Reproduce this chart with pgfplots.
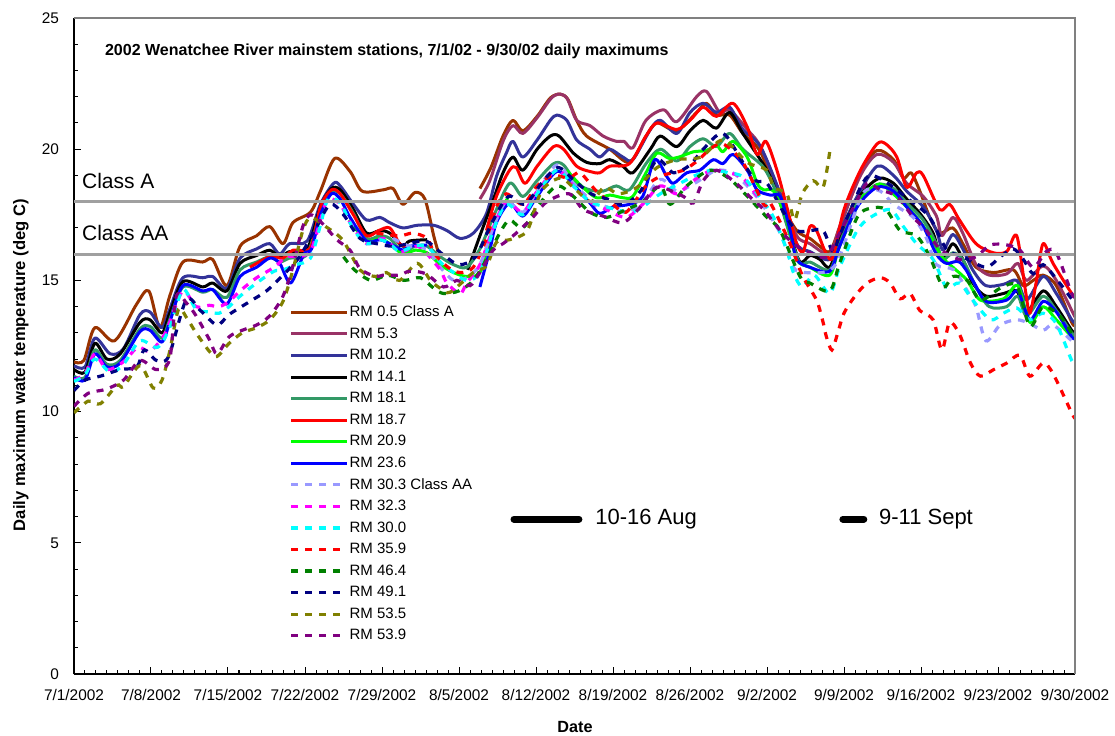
\documentclass[border=0pt]{standalone}
\usepackage{fontspec}
\setmainfont{Liberation Sans}
\usepackage{pgfplots}
\pgfplotsset{compat=1.18}

\definecolor{rmbrown}{HTML}{993300}
\definecolor{rmplum}{HTML}{993366}
\definecolor{rmindigo}{HTML}{333399}
\definecolor{rmsea}{HTML}{339966}
\definecolor{rmred}{HTML}{FF0000}
\definecolor{rmlime}{HTML}{00FF00}
\definecolor{rmblue}{HTML}{0000FF}
\definecolor{rmperi}{HTML}{9999FF}
\definecolor{rmmagenta}{HTML}{FF00FF}
\definecolor{rmcyan}{HTML}{00FFFF}
\definecolor{rmgreen}{HTML}{008000}
\definecolor{rmnavy}{HTML}{000080}
\definecolor{rmolive}{HTML}{808000}
\definecolor{rmpurple}{HTML}{800080}
\definecolor{framegray}{HTML}{808080}
\definecolor{classgray}{HTML}{A0A0A0}

\pgfplotsset{
  solidrm/.style={smooth, tension=0.5, line width=1.5pt, line join=round, no markers},
  dashrm/.style={smooth, tension=0.5, line width=1.6pt, dash pattern=on 3.5pt off 3.5pt, no markers},
}

\begin{document}
\begin{tikzpicture}
\begin{axis}[
    name=ax,
    scale only axis,
    width=500.5pt, height=328pt,
    xmin=0, xmax=91, ymin=0, ymax=25,
    axis x line*=bottom, axis y line*=left,
    axis line style={black, line width=0.6pt},
    xtick={0,7,...,91},
    xticklabels={7/1/2002,7/8/2002,7/15/2002,7/22/2002,7/29/2002,8/5/2002,8/12/2002,8/19/2002,8/26/2002,9/2/2002,9/9/2002,9/16/2002,9/23/2002,9/30/2002},
    minor x tick num=6,
    ytick={0,5,...,25},
    minor y tick num=4,
    tick align=inside,
    major tick length=3.5pt, minor tick length=2pt,
    tick style={black, line width=0.5pt},
    tick label style={font=\fontsize{7.7}{9}\selectfont},
    xticklabel style={yshift=-4pt},
    yticklabel style={xshift=-4pt},
    /pgf/number format/assume math mode=true,
    xlabel={Date},
    ylabel={Daily maximum water temperature (deg C)},
    xlabel style={font=\bfseries\fontsize{8.1}{9}\selectfont, at={(rel axis cs:0.5005,-0.081)}, anchor=center},
    ylabel style={font=\bfseries\fontsize{8.3}{9}\selectfont, at={(rel axis cs:-0.053,0.471)}, anchor=center},
    legend cell align=left,
    legend image code/.code={\draw[#1] (0pt,0pt) -- (28pt,0pt);},
    legend style={draw=none, fill=none, at={(rel axis cs:0.2088,0.5702)}, anchor=north west,
        font=\fontsize{7.5}{8}\selectfont, row sep=2.78pt,
        nodes={inner sep=0.5pt, text height=5.6pt, text depth=1.4pt}},
]

% RM 0.5
\addplot[solidrm, rmbrown] coordinates {
(0,11.9) (0.9,11.95) (1.9,13.2) (3.7,12.7) (5.7,14.1) (6.8,14.6) (7.8,13.2) (8.7,14.4) (9.9,15.7) (11.7,15.7) (12.6,15.8) (13.9,14.8) (15.1,16.3) (16.6,16.7) (17.8,17.05) (19,16.4) (19.9,17.2) (21.5,17.6) (22.4,18.4) (23.7,19.65) (25.1,19.15) (26.2,18.4) (28.1,18.45) (29,18.5) (29.9,17.9) (31,18.35) (31.9,18.1) (32.7,16.7) (33.1,16.1)
};
\addlegendentry{RM 0.5 Class A}
\addplot[solidrm, rmbrown, forget plot] coordinates {
(36.9,18.5) (37.9,19.3) (39,20.5) (39.9,21.1) (40.8,20.7) (42.1,21.25) (43.3,21.95) (44.2,22.1) (44.9,21.9) (45.7,21.1) (46.6,20.5) (48.7,20.0) (50.5,19.5) (52,20.5) (53,21.0) (54.8,20.7) (56.6,21.4) (57.5,21.75) (58.4,21.3) (59.6,21.3) (60.8,20.6) (62.4,19.9) (64.2,18.0) (65.7,16.9) (66.9,16.6) (67.8,16.3) (68.7,16.1) (69.6,17.0) (71.5,19.1) (73,19.95) (74.5,19.6) (75.4,18.9) (76.1,19.1) (76.9,18.4) (77.8,17.4) (78.7,16.8) (79.9,17.0) (80.8,16.4) (82,15.5) (83.6,15.3) (85.4,15.4) (86.3,14.8) (87.2,15.0) (88.1,15.2) (89.3,14.8) (90.7,13.4) (91,13.3)
};

% RM 5.3
\addplot[solidrm, rmplum] coordinates {
(36.9,18.1) (37.8,18.8) (39,20.3) (39.9,20.9) (40.8,20.6) (42.1,21.2) (43.3,21.9) (44,22.1) (44.8,21.95) (45.7,21.1) (46.9,20.9) (48.1,20.5) (49.3,20.3) (50,20.3) (50.8,20.05) (52,21.1) (53.6,21.5) (54.8,21.05) (56.6,22.0) (57.5,22.2) (58.7,21.4) (59.6,21.5) (61.2,20.75) (62.4,20.1) (64.2,18.3) (65.7,16.7) (66.9,16.4) (68.7,16.0) (69.6,17.05) (71.5,19.0) (73,19.8) (74.5,19.5) (75.7,18.7) (77.2,18.2) (78.4,17.45) (78.9,16.7) (79.9,17.4) (80.8,16.8) (82,15.6) (83.2,15.2) (84.8,15.25) (85.8,15.65) (86.6,15.0) (88.1,15.55) (89.3,15.0) (91,13.6)
};
\addlegendentry{RM 5.3}

% RM 10.2
\addplot[solidrm, rmindigo] coordinates {
(0,11.75) (1,11.7) (1.9,12.8) (3.3,12.2) (4.5,12.4) (6,13.7) (6.9,13.8) (8,13.2) (8.7,13.9) (9.9,15.1) (11.7,15.1) (12.6,15.15) (13.9,14.7) (15.1,15.85) (16.6,16.2) (17.8,16.4) (18.7,16.0) (19.6,16.4) (21.2,16.5) (22.4,17.9) (23.6,18.7) (24.2,18.6) (25.4,17.9) (26.6,17.3) (27.8,17.4) (28.7,17.2) (29.9,17.0) (31.2,17.1) (32.7,17.1) (33.9,16.9) (35.1,16.6) (36.3,16.8) (37.5,17.55) (38.4,18.95) (39.3,19.85) (39.9,20.3) (40.8,19.7) (42.1,20.35) (43.3,21.1) (43.9,21.3) (44.8,21.1) (45.7,20.35) (46.9,20.0) (47.8,19.7) (48.7,20.0) (49.9,19.7) (50.8,19.6) (52.4,20.75) (53.3,21.1) (54.8,20.6) (56,21.4) (57.2,21.75) (58.4,21.4) (59.6,21.6) (60.8,20.75) (62.4,20.1) (64.2,18.3) (65.7,16.4) (66.9,16.1) (68.7,15.8) (69.6,16.8) (71.2,18.2) (73,19.35) (74.5,19.0) (75.7,18.4) (77.2,17.8) (78.4,16.9) (79,16.15) (79.9,16.75) (80.8,16.2) (81.7,15.4) (82.9,14.8) (84.5,14.85) (85.7,15.0) (86.6,14.25) (88.1,15.15) (89.3,14.5) (90.7,13.5) (91,13.4)
};
\addlegendentry{RM 10.2}

% RM 14.1
\addplot[solidrm, black] coordinates {
(0,11.6) (1,11.5) (1.9,12.6) (3,12.0) (4.2,12.2) (6,13.4) (6.9,13.5) (8,13.0) (8.7,13.75) (9.9,14.95) (11.7,14.75) (12.6,14.9) (13.9,14.6) (15.1,15.65) (16.6,15.95) (17.8,16.15) (18.7,15.9) (19.6,16.1) (21.2,16.2) (22.4,17.8) (23.4,18.5) (24.2,18.45) (25.4,17.7) (26.6,16.8) (27.8,16.9) (28.7,16.8) (29.9,16.3) (30.5,16.5) (32.1,16.55)
};
\addlegendentry{RM 14.1}
\addplot[solidrm, black, forget plot] coordinates {
(35.8,15.4) (36.9,16.7) (38.1,18.05) (39,19.1) (39.9,19.7) (40.8,19.2) (42.1,20.0) (43.3,20.5) (44.1,20.5) (45.4,19.85) (46.6,19.5) (47.8,19.45) (48.7,19.6) (49.9,19.35) (50.8,19.1) (52.4,20.0) (53.3,20.5) (54.8,20.1) (56,20.7) (57.2,21.1) (58.4,20.8) (59.6,21.4) (60.8,20.6) (62.4,19.6) (63.3,18.95) (64.2,17.95) (65.1,16.8) (66,15.7) (66.9,15.95) (67.8,15.8) (68.7,15.5) (69.6,16.55) (70.8,17.8) (72.1,18.55) (73.3,18.9) (74.5,18.7) (75.7,18.1) (76.9,17.55) (78.1,16.8) (78.9,15.8) (79.9,16.4) (80.8,15.8) (81.7,14.9) (82.9,14.4) (84.5,14.5) (85.7,14.6) (86.6,13.8) (88.1,14.6) (89.3,14.0) (90.7,13.1) (91,13.0)
};

% RM 18.1
\addplot[solidrm, rmsea] coordinates {
(0,11.35) (1,11.3) (1.9,12.35) (3,11.8) (4.2,11.95) (6,13.15) (6.9,13.25) (8,12.8) (8.7,13.5) (9.9,14.75) (11.7,14.55) (12.6,14.65) (13.9,14.35) (15.1,15.4) (16.6,15.7) (17.8,15.9) (18.7,15.7) (19.6,15.85) (21.2,16.0) (22.4,17.6) (23.4,18.35) (24.2,18.3) (25.4,17.55) (26.6,16.6) (27.8,16.7) (28.7,16.6) (29.9,16.1) (31,16.3) (32.1,16.3) (33.3,15.9) (34.5,15.6) (35.7,15.5) (36.9,16.2) (38.1,17.4) (39.6,18.7) (40.8,18.2) (42.1,18.8) (43.6,19.45) (44.5,19.4) (45.7,18.7) (46.9,18.45) (48.1,18.4) (49.3,18.6) (50.5,18.45) (52,19.45) (53.3,20.0) (54.8,19.55) (56,20.1) (57.2,20.4) (58.4,20.1) (59.6,20.6) (60.8,20.0) (62.6,19.35) (63.6,18.6) (64.2,17.95) (65.1,16.7) (66,15.65) (66.9,15.7) (68.7,15.4) (69.6,16.4) (71.2,17.95) (73,18.65) (74.5,18.5) (75.7,17.95) (77.2,17.3) (78.4,16.4) (79,15.8) (79.9,16.05) (80.8,15.8) (82,14.75) (83.2,14.0) (84.8,14.0) (85.8,14.4) (86.6,13.65) (88.1,14.4) (89.3,13.85) (90.7,13.0) (91,12.9)
};
\addlegendentry{RM 18.1}

% RM 18.7
\addplot[solidrm, rmred] coordinates {
(16,15.5) (17.8,15.9) (19,15.85) (19.9,16.15) (21.5,16.25) (22.4,17.8) (23.4,18.45) (24.2,18.3) (25.4,17.5) (26.6,16.7) (27.7,16.9) (28.7,17.0) (29.6,16.4) (30.2,16.3)
};
\addlegendentry{RM 18.7}
\addplot[solidrm, rmred, forget plot] coordinates {
(37.5,16.9) (38.4,18.2) (39.6,19.2) (40.2,19.3) (41,18.7) (42.1,19.35) (43.6,20.1) (44.5,20.0) (45.7,19.35) (46.9,19.15) (47.8,19.1) (48.7,19.35) (50.5,19.45) (52,20.5) (53,21.0) (54.8,20.75) (56,21.1) (57.2,21.6) (58.4,21.25) (59.9,21.75) (61.2,20.85) (62.1,19.8) (62.9,20.3) (63.9,19.2) (64.8,17.8) (65.7,16.4) (66.3,16.1) (66.9,17.05) (67.5,16.9) (68.4,16.0) (69,15.9) (70,17.7) (71.5,19.2) (73,20.2) (73.8,20.2) (74.8,19.7) (75.7,18.55) (76.6,19.1) (77.2,19.0) (78.7,17.7) (79.6,17.9) (80.5,17.3) (82,16.4) (83.6,16.05) (84.8,16.1) (85.7,16.7) (86.5,14.6) (86.9,13.75) (87.5,15.0) (88.1,16.4) (89,15.65) (90.7,14.5) (91,14.4)
};

% RM 20.9
\addplot[solidrm, rmlime] coordinates {
(25,17.3) (26.6,16.5) (27.8,16.6) (28.7,16.4) (29.9,16.0) (31,16.15) (32.1,16.05) (33.3,15.6) (34.5,15.3) (35.7,15.15) (36.9,15.3) (37.8,16.55) (38.7,17.55) (39.5,18.2)
};
\addlegendentry{RM 20.9}
\addplot[solidrm, rmlime, forget plot] coordinates {
(44.8,19.2) (46,18.65) (47.5,18.15) (48.7,18.25) (49.9,18.15) (50.8,18.2) (52,19.1) (53,19.85) (54.1,19.65) (55,19.7) (56.3,19.9) (57.5,19.95) (58.4,20.15) (59,19.9) (59.9,20.3) (61.2,19.7) (62.1,18.7) (62.7,18.45) (63.6,18.4) (64.8,17.3) (65.7,15.8) (66.9,15.5) (68.7,15.2) (69.6,16.3) (71.5,18.05) (73,18.65) (73.8,18.55) (75.1,18.05) (76.6,17.4) (77.8,16.7) (78.9,15.9) (79.9,15.5) (81.2,15.0) (82.4,14.25) (84.5,14.3) (85.8,14.8) (86.9,13.4) (88.1,14.0) (89.3,13.5) (90.7,12.85) (91,12.8)
};

% RM 23.6
\addplot[solidrm, rmblue] coordinates {
(0,11.3) (1,11.2) (1.9,12.2) (3,11.7) (4.2,11.85) (6,13.05) (6.9,13.1) (8,12.65) (8.7,13.4) (9.9,14.8) (11.7,14.6) (12.6,14.65) (13.9,14.1) (15.1,15.15) (16.6,15.5) (17.8,15.85) (18.7,15.65) (19.7,14.9) (20.9,16.0) (21.6,16.2) (22.4,17.5) (23.4,18.3) (24.2,18.1) (25.1,17.4) (26.6,16.5) (27.8,16.55) (28.7,16.4) (29.9,16.15) (30.5,16.3) (32.1,16.35)
};
\addlegendentry{RM 23.6}
\addplot[solidrm, rmblue, forget plot] coordinates {
(36.9,14.75) (37.8,16.15) (38.4,17.2) (39.6,17.95) (40.8,17.45) (42.1,18.2) (43.9,19.15) (45.4,18.65) (46.9,17.95) (47.8,17.55) (49,17.8) (50.5,17.9) (51.7,18.2) (52.8,19.6) (53.9,18.95) (54.5,18.7) (55.7,19.1) (56.9,19.2) (58.1,19.6) (59,19.45) (59.9,19.8) (61.2,19.2) (62.1,18.45) (63.3,18.25) (64.2,18.2) (65.1,16.9) (65.7,15.8) (66.9,15.5) (68.7,15.35) (69.6,16.3) (71.2,17.8) (73,18.55) (74.5,18.4) (75.7,17.8) (77.2,17.05) (78.4,16.0) (79.3,15.65) (80.5,15.7) (81.7,15.0) (82.9,14.2) (84.8,14.25) (85.8,14.6) (86.9,13.5) (88.1,14.2) (89.3,13.8) (90.7,12.85) (91,12.8)
};

% RM 30.3
\addplot[dashrm, rmperi] coordinates {
(29,16.6) (30.5,16.3) (32,16.2) (33.3,15.5) (34.5,15.0) (35.7,15.1) (36.9,15.6) (38.1,17.0) (39.3,18.0) (40.8,17.6) (42.1,18.4) (43.9,19.4) (45.4,18.7) (46.9,18.1) (48.4,17.8) (50.2,17.6) (51.7,18.0) (53.3,18.85) (54.8,18.4) (56,18.6) (57.2,18.9) (58.4,19.2) (59.9,19.1) (61.2,18.6) (62.4,18.0) (64.2,16.8) (65.4,15.5) (66.5,15.3) (68.5,15.35) (69.6,15.9) (71.7,18.3) (73.3,18.4) (74.5,17.9) (76.3,17.4) (77.5,16.6) (78.4,15.6) (80,15.4) (81.2,14.6) (82,14.0) (82.9,12.7) (84.2,13.3) (85.7,13.5) (86.9,13.35) (88.1,13.1) (89,13.3) (90.7,12.7) (91,12.6)
};
\addlegendentry{RM 30.3 Class AA}

% RM 32.3
\addplot[dashrm, rmmagenta] coordinates {
(0,11.2) (1,11.45) (1.9,12.2) (3,11.6) (4.5,11.9) (5.8,12.45) (6.9,12.3) (8.1,12.85) (8.7,13.4) (9.9,14.6) (11.1,14.0) (12.3,14.05) (13.2,14.0) (14.1,14.2) (15.1,14.6) (16.6,15.1) (18.2,15.5) (19.3,15.9) (20.2,15.9) (21.5,16.1) (22.4,17.3) (23.1,18.1) (24.2,17.9) (25.1,17.2) (26.6,16.4) (28.1,16.6) (29.6,16.1) (31.2,16.3) (32.1,16.0) (33.3,15.4) (33.9,14.9) (35.1,14.5) (35.7,14.9) (36.9,15.6) (38.1,17.0) (39.3,18.0) (40.8,17.6) (42.1,18.4) (43.9,19.2) (45.4,18.6) (46.9,18.0) (48.4,17.7) (50.2,17.4) (51.7,17.9) (53.3,18.6) (54.8,18.3) (56.3,18.8) (58,19.2) (59.5,19.1) (60.8,18.9) (62.3,18.1)
};
\addlegendentry{RM 32.3}

% RM 30.0
\addplot[dashrm, rmcyan] coordinates {
(0,11.15) (1,11.4) (1.9,12.0) (3.3,11.5) (4.5,11.8) (6,12.7) (7.6,12.45) (8.7,13.2) (9.9,14.65) (11.1,13.9) (12.3,13.8) (13.2,13.75) (14.1,14.0) (15.1,14.4) (16.6,14.9) (18.2,15.35) (19,15.4) (20.2,15.6) (21.5,15.85) (22.4,17.1) (23.1,18.1) (24.2,17.95) (25.4,16.95) (26.6,16.4) (27.8,16.55) (28.7,16.4) (29.6,16.1) (30.9,16.3) (32.1,16.3) (33.3,15.7) (34.5,15.3) (35.7,15.0) (36.9,15.3) (38.1,16.9) (39.3,17.9) (40.8,17.5) (42.1,18.3) (43.9,19.2) (45.4,18.6) (46.9,18.0) (48.4,17.8) (50.5,17.6) (51.7,17.8) (53.3,18.3) (55.1,18.7) (56.5,19.0) (58,19.2) (59.5,19.1) (60.8,18.95) (62.3,18.2) (63.6,17.4) (64.8,16.15) (65.4,15.3) (66.2,14.75) (67.3,15.2) (68.7,14.5) (69.6,15.5) (71.2,16.9) (72.4,17.4) (74.2,17.7) (75.4,17.05) (76.6,16.4) (78.1,15.8) (79.3,14.75) (80.5,14.9) (81.7,14.25) (83.3,13.5) (84.5,13.75) (85.7,13.95) (86.9,13.5) (88.1,13.75) (89.3,13.35) (90.7,11.95) (91,11.9)
};
\addlegendentry{RM 30.0}

% RM 35.9
\addplot[dashrm, rmred] coordinates {
(27.5,16.8) (29.6,16.7) (30.8,16.8) (32.1,16.6) (32.8,16.0) (34,15.5) (35.1,15.3) (36.3,15.5) (37.5,16.6) (38.4,17.8) (39.3,18.3) (40.8,17.9) (42.1,18.6) (43.5,19.0) (45,18.9) (46,19.1) (47.5,18.4) (49,17.9) (50.2,17.6) (52,18.6) (53.5,19.0) (55.4,19.2) (56.8,19.6) (57.8,20.0) (59,20.2) (60.8,19.5) (62.7,17.9) (63.3,17.95) (65.1,16.4) (66.2,15.2) (67.5,14.25) (68.1,13.4) (68.4,12.85) (68.9,12.35) (69.4,12.95) (70,13.75) (71,14.4) (72.1,14.9) (73.3,15.1) (74.2,14.9) (75.1,14.3) (76,14.5) (76.9,13.85) (78.1,13.5) (78.9,12.35) (79.6,13.4) (80.5,12.95) (81.5,11.85) (82.4,11.35) (83.6,11.6) (84.8,11.85) (86,12.15) (86.9,11.35) (88.1,11.85) (89,11.45) (90.7,9.95) (91,9.75)
};
\addlegendentry{RM 35.9}

% RM 46.4
\addplot[dashrm, rmgreen] coordinates {
(24.5,15.9) (25.5,15.4) (27,15.0) (28.5,15.2) (30,15.0) (31.5,15.1) (32.7,14.7) (33.6,14.5) (35,14.6) (36.3,15.0) (37.5,15.8) (38.7,16.8) (39.6,17.3) (40.8,17.0) (42.1,17.8) (43.9,18.6) (45.4,18.2) (46.9,17.6) (48.4,17.4) (50.2,17.7) (51.7,18.0) (53.3,18.6) (54.2,17.9) (55.7,18.6) (57.8,19.2) (59.5,18.9) (61,18.3) (63,17.4) (64.2,16.9) (66,15.15) (66.9,14.9) (68.7,14.6) (69.6,15.65) (71.2,17.4) (72.4,17.75) (73.8,17.7) (75.1,16.9) (76.6,16.7) (77.8,15.9) (79,14.75) (79.9,15.15) (81.2,15.0) (82.4,14.25) (84.2,14.7) (85.7,14.8) (86.9,13.25) (88.1,14.0) (89.6,13.65) (90.7,13.0) (91,12.9)
};
\addlegendentry{RM 46.4}

% RM 49.1
\addplot[dashrm, rmnavy] coordinates {
(0,10.8) (1,11.2) (2.4,11.35) (4.2,11.6) (5.7,11.7) (6.4,12.35) (7.5,11.95) (8.6,12.1) (10.2,14.25) (11.5,13.85) (13,13.3) (14.1,13.7) (16,14.2) (17.5,14.6) (19,15.2) (20.5,15.9) (22,17.0) (23.3,17.9) (24.5,17.5) (26,16.6) (27.5,16.4) (29,16.3) (30.5,16.4) (32,16.5) (33.5,16.0) (35,15.6) (36.5,15.9) (38,17.2) (39.5,18.2) (41,17.9) (42.5,18.7) (44,19.3) (45.5,18.8) (47,18.3) (48.5,18.1) (50,17.9) (51.5,18.4) (53,19.6) (54.5,19.1) (56,19.4) (57.2,20.0) (59,20.6) (60.8,19.5) (62,18.8) (63,18.7) (64.5,17.6) (65.7,16.9) (67,16.9) (68.1,16.9) (69,16.1) (69.6,16.7) (71.5,18.55) (72.4,19.0) (73.8,18.75) (76,18.05) (77.8,17.4) (79.3,16.2) (80.8,15.9) (82.9,15.5) (84.2,15.9) (85.4,16.2) (86.3,15.8) (87.2,15.25) (88.1,15.6) (89.6,14.9) (90.7,14.3) (91,14.25)
};
\addlegendentry{RM 49.1}

% RM 53.5
\addplot[dashrm, rmolive] coordinates {
(0,9.95) (1.3,10.4) (2.4,10.3) (3.9,11.0) (4.5,10.95) (6,11.75) (7.2,10.9) (8,11.2) (8.7,12.3) (9.5,13.9) (10.2,13.6) (11.1,13.0) (12.3,12.3) (13,12.1) (14.1,12.6) (15.3,13.0) (16.6,13.2) (17.8,13.5) (19,14.2) (19.9,15.4) (20.8,16.9) (21.5,17.4) (22.7,17.1) (24.4,16.55) (26,15.4) (27.4,15.15) (28.4,15.3) (29.6,15.0) (31.2,15.65) (32.4,15.0) (33.3,14.7) (34.2,14.55) (36.3,15.3) (37.5,15.55) (38.4,16.45) (39.6,16.55) (41.2,16.9) (42.5,18.4) (44.2,18.9) (45.5,18.5) (47,18.0) (48.2,18.55) (49.5,18.3) (51.2,18.55) (53,19.3) (54.8,19.6) (57,19.7) (59,20.35) (61.2,19.5) (63,19.2) (63.6,18.55) (64.8,18.3) (65.5,17.3) (66.2,18.3) (67.2,18.8) (68.1,18.55) (68.7,19.9)
};
\addlegendentry{RM 53.5}

% RM 53.9
\addplot[dashrm, rmpurple] coordinates {
(0,10.2) (1.3,10.7) (2.9,10.85) (4.5,11.2) (6,11.95) (7.5,11.6) (8.7,12.0) (9.3,14.4) (10.2,14.15) (11.1,13.65) (12.3,12.75) (13,12.2) (14.1,12.85) (15.3,13.1) (16.6,13.3) (17.8,13.65) (19,14.4) (19.9,15.55) (20.8,17.05) (21.5,17.5) (22.5,17.2) (23.9,16.55) (25.1,16.15) (26,15.45) (27.4,15.15) (28.1,15.2) (29.6,15.2) (30.5,15.35) (32,15.25) (33.6,14.75) (34.8,15.0) (36,14.8) (36.9,15.3) (38.1,16.15) (39,16.4) (40.2,16.8) (41.7,17.4) (43,18.0) (45,18.3) (46.3,17.7) (48.1,17.45) (49.9,17.2) (51.5,17.8) (53,18.55) (55.4,18.2) (56.3,17.95) (57.2,18.8) (58.4,19.2) (60.2,18.7) (61.4,18.2) (62.7,17.7) (64,17.0) (65.4,16.4) (66.9,16.05) (68.4,15.9) (69.6,16.8) (71.2,18.05) (72.1,18.7) (73.3,18.45) (74.8,18.2) (76.3,17.4) (77.5,16.9) (78.7,16.2) (80.5,15.8) (82,15.9) (83.3,16.35) (84.8,16.35) (86,16.15) (87.2,15.5) (88.4,16.1) (89.3,16.05) (90.7,14.5) (91,14.4)
};
\addlegendentry{RM 53.9}

% standard lines
\addplot[classgray, line width=1.5pt, forget plot] coordinates {(0,18) (91,18)};
\addplot[classgray, line width=1.5pt, forget plot] coordinates {(0,16) (91,16)};

% survey periods
\addplot[black, line width=3.5pt, line cap=round, forget plot] coordinates {(40,5.9) (45.9,5.9)};
\addplot[black, line width=3.5pt, line cap=round, forget plot] coordinates {(69.9,5.9) (71.8,5.9)};

\node[anchor=west, font=\bfseries\fontsize{8}{9}\selectfont] at (rel axis cs:0.024,0.9485)
  {2002 Wenatchee River mainstem stations, 7/1/02 - 9/30/02 daily maximums};
\node[anchor=west, font=\fontsize{10.5}{12}\selectfont] at (axis cs:0.1,18.8) {Class A};
\node[anchor=west, font=\fontsize{10.5}{12}\selectfont] at (axis cs:0.1,16.8) {Class AA};
\node[anchor=west, font=\fontsize{11}{12}\selectfont] at (axis cs:46.75,5.9) {10-16 Aug};
\node[anchor=west, font=\fontsize{11}{12}\selectfont] at (axis cs:72.55,5.9) {9-11 Sept};
\end{axis}
\draw[framegray, line width=1pt] (ax.north west) -- (ax.north east) -- (ax.south east);
\pgfresetboundingbox
\path ([shift={(-37pt,-31pt)}]ax.south west) rectangle ([shift={(20pt,9pt)}]ax.north east);
\end{tikzpicture}
\end{document}
